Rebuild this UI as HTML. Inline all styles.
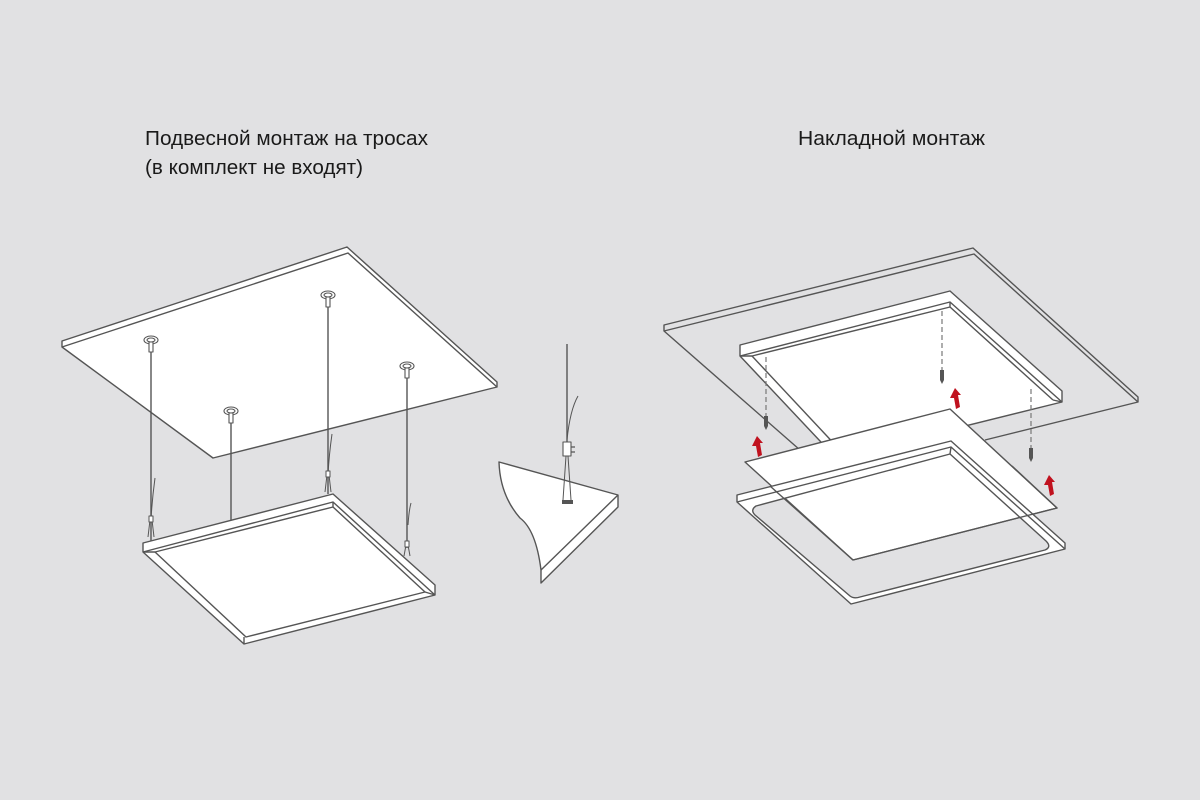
<!DOCTYPE html>
<html><head><meta charset="utf-8">
<style>
html,body{margin:0;padding:0;background:#e1e1e3;}
svg{display:block}
text{font-family:"Liberation Sans","DejaVu Sans",sans-serif;fill:#1a1a1a}
</style></head>
<body>
<svg width="1200" height="800" viewBox="0 0 1200 800" xmlns="http://www.w3.org/2000/svg">
<rect width="1200" height="800" fill="#e1e1e3"/>
<text x="145" y="145" font-size="20" textLength="283" lengthAdjust="spacingAndGlyphs">Подвесной монтаж на тросах</text>
<text x="145" y="174" font-size="20" textLength="218" lengthAdjust="spacingAndGlyphs">(в комплект не входят)</text>
<text x="798" y="145" font-size="20" textLength="187" lengthAdjust="spacingAndGlyphs">Накладной монтаж</text>

<g fill="none" stroke="#555" stroke-width="1.4" stroke-linejoin="round">
<!-- LEFT ceiling -->
<polygon points="62,341 347,247 497,382 497,387 213,458 62,347" fill="#fff"/>
<polyline points="62,347 348,253 497,387"/>

<!-- wires -->
<line x1="151" y1="350" x2="151" y2="541"/>
<line x1="231" y1="420" x2="231" y2="520"/>
<line x1="328" y1="303" x2="328" y2="494"/>
<line x1="407" y1="374" x2="407" y2="548"/>
<path d="M151,520 Q152,500 155,478" stroke-width="1"/>
<path d="M328,475 Q329,455 332,434" stroke-width="1"/>
<path d="M408,525 Q409,510 411,503" stroke-width="1"/>
<path d="M150,520 L148,537 M152,520 L154,537" stroke-width="1"/>
<path d="M327,475 L325,492 M329,475 L331,492" stroke-width="1"/>
<path d="M406,545 L404,556 M408,545 L410,556" stroke-width="1"/>
<rect x="149" y="516" width="4" height="6" fill="#fff" stroke-width="1"/>
<rect x="326" y="471" width="4" height="6" fill="#fff" stroke-width="1"/>
<rect x="405" y="541" width="4" height="6" fill="#fff" stroke-width="1"/>
<g stroke-width="1.1" fill="#fff">
<ellipse cx="151" cy="340" rx="7" ry="4"/><ellipse cx="151" cy="340" rx="4" ry="2"/><rect x="149" y="342" width="4" height="10"/>
<ellipse cx="231" cy="411" rx="7" ry="4"/><ellipse cx="231" cy="411" rx="4" ry="2"/><rect x="229" y="413" width="4" height="10"/>
<ellipse cx="328" cy="295" rx="7" ry="4"/><ellipse cx="328" cy="295" rx="4" ry="2"/><rect x="326" y="297" width="4" height="10"/>
<ellipse cx="407" cy="366" rx="7" ry="4"/><ellipse cx="407" cy="366" rx="4" ry="2"/><rect x="405" y="368" width="4" height="10"/>
</g>

<!-- LEFT panel -->
<polygon points="143,543 333,494 435,585 435,595 244,644 143,552" fill="#fff"/>
<polyline points="143,552 333,502 435,595"/>
<polyline points="333,502 333,507 425,592"/>
<polyline points="143,552 155,552 333,507"/>
<polyline points="155,552 246,637 425,592 435,595"/>
<line x1="244" y1="644" x2="244" y2="637"/>

<!-- middle detail -->
<path d="M499,462 L618,495 L618,507 L541,583 L541,570 Q536,530 520,518 Q500,495 499,462 Z" fill="#fff"/>
<polyline points="541,570 618,495"/>
<line x1="567" y1="344" x2="567" y2="442"/>
<path d="M567,440 Q570,410 578,396" stroke-width="1"/>
<rect x="563" y="442" width="8" height="14" fill="#fff" stroke-width="1.1"/>
<path d="M571,447 h4 M571,452 h4" stroke-width="1.2"/>
<path d="M566,456 L563,500 M568,456 L571,500" stroke-width="1"/>
<rect x="562" y="500" width="11" height="4" fill="#555" stroke="none"/>

<!-- RIGHT ceiling (outline only) -->
<polyline points="800,450 664,331 664,325 973,248 1138,397 1138,402 985,440"/>
<polyline points="664,331 974,254 1138,402"/>

<!-- RIGHT upper panel -->
<polygon points="740,345 950,291 1062,391 1062,402 836,458 740,356" fill="#fff"/>
<polyline points="740,356 950,302 1062,402"/>
<polyline points="950,302 950,307 1053,400"/>
<polyline points="740,356 752,356 950,307"/>
<polyline points="752,356 840,450"/>
<polyline points="1053,400 1062,402"/>

<!-- screws -->
<g stroke="#777" stroke-width="1.2" stroke-dasharray="5,3">
<line x1="766" y1="357" x2="766" y2="418"/>
<line x1="942" y1="311" x2="942" y2="372"/>
<line x1="1031" y1="389" x2="1031" y2="450"/>
</g>
<g fill="#555" stroke="none">
<path d="M764,416 h4 l0,10 l-2,4 l-2,-4z"/>
<path d="M940,370 h4 l0,10 l-2,4 l-2,-4z"/>
<path d="M1029,448 h4 l0,10 l-2,4 l-2,-4z"/>
</g>

<!-- diffuser plate -->
<polygon points="745,462 950,409 1057,508 853,560" fill="#fff"/>

<!-- bottom frame ring -->
<path fill="#fff" fill-rule="evenodd" d="M737,495 L951,441 L1065,543 L1065,549 L851,604 L737,502 Z M756,506 Q750,510 755,515 L850,596 Q854,599 860,597 L1045,550 Q1052,547 1046,541 L950,454 Z"/>
<polyline points="737,502 951,447 1065,549"/>
<polyline points="951,447 950,454"/>
<!-- plate edges on top -->
<polyline points="853,560 1057,508 1012,466"/>
<line x1="853" y1="560" x2="770" y2="486"/>
</g>

<!-- red arrows -->
<g fill="#c0121f">
<path d="M752,446 L757,436 L763,443 L760,443 L762,455 L758,457 L756,446Z"/>
<path d="M950,398 L955,388 L961,395 L958,395 L960,407 L956,409 L954,398Z"/>
<path d="M1044,485 L1049,475 L1055,482 L1052,482 L1054,494 L1050,496 L1048,485Z"/>
</g>
</svg>
</body></html>
